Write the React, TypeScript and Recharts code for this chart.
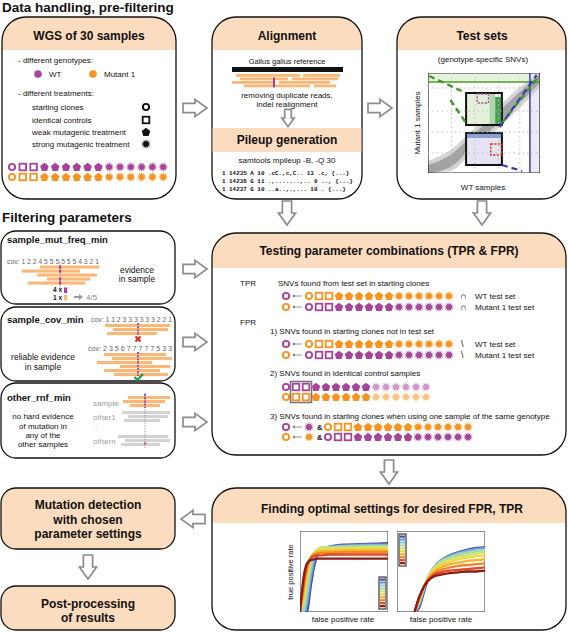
import React from "react";
import {
  LineChart,
  Line,
  XAxis,
  YAxis,
  ComposedChart,
  Area,
  ReferenceArea,
  ReferenceLine,
} from "recharts";

const FONT = "'Liberation Sans', Arial, Helvetica, sans-serif";
const MONO = "'Liberation Mono', 'DejaVu Sans Mono', monospace";
const PEACH = "#FCDCBE";
const PURPLE = "#A6449A";
const ORANGE = "#F7931E";
const READ = "#F9B878";
const GREYREAD = "#D2D2D2";
const ARROWC = "#8C8C8C";

// one genotype: starting clone, 2 identical controls, 6 weak, 6 strong treatments
const sampleTypes = ["c", "s", "s", "p", "p", "p", "p", "p", "p", "x", "x", "x", "x", "x", "x"];

// ROC curves, blue (first) to dark red (last)
const rocColors = [
  "#4B4BA8", "#6E98CF", "#8DCFDC", "#A7DBA4", "#CFE36F",
  "#F1D73A", "#F6B230", "#F0852A", "#DD4A22", "#8E1A16",
];

const leftFpr = [0, 0.04, 0.08, 0.12, 0.16, 0.2, 0.25, 0.35, 0.5, 0.75, 1];
const leftTpr = [
  [0, 0, 0, 0.3, 0.56, 0.7, 0.78, 0.81, 0.83, 0.84, 0.85],
  [0, 0, 0.1, 0.4, 0.62, 0.73, 0.79, 0.81, 0.82, 0.83, 0.83],
  [0, 0, 0.2, 0.5, 0.68, 0.76, 0.79, 0.8, 0.81, 0.82, 0.82],
  [0, 0.05, 0.32, 0.58, 0.72, 0.77, 0.8, 0.8, 0.81, 0.81, 0.81],
  [0, 0.12, 0.4, 0.62, 0.73, 0.77, 0.79, 0.79, 0.79, 0.8, 0.8],
  [0, 0.18, 0.46, 0.65, 0.73, 0.76, 0.77, 0.77, 0.78, 0.78, 0.78],
  [0, 0.25, 0.52, 0.67, 0.72, 0.74, 0.75, 0.75, 0.76, 0.76, 0.76],
  [0, 0.3, 0.55, 0.67, 0.71, 0.72, 0.73, 0.73, 0.74, 0.74, 0.74],
  [0, 0.35, 0.58, 0.66, 0.69, 0.7, 0.7, 0.71, 0.71, 0.71, 0.71],
  [0, 0.42, 0.6, 0.64, 0.65, 0.66, 0.66, 0.66, 0.66, 0.66, 0.66],
];

const rightFpr = [0.2, 0.25, 0.3, 0.35, 0.42, 0.5, 0.6, 0.7, 0.8, 0.9, 1];
const rightTpr = [
  [0, 0.05, 0.22, 0.4, 0.55, 0.64, 0.7, 0.74, 0.77, 0.79, 0.8],
  [0, 0.08, 0.25, 0.41, 0.55, 0.64, 0.69, 0.73, 0.76, 0.78, 0.79],
  [0, 0.1, 0.27, 0.42, 0.55, 0.63, 0.68, 0.72, 0.74, 0.76, 0.77],
  [0, 0.12, 0.28, 0.42, 0.54, 0.62, 0.67, 0.7, 0.73, 0.75, 0.76],
  [0, 0.13, 0.29, 0.42, 0.53, 0.6, 0.65, 0.68, 0.7, 0.72, 0.73],
  [0, 0.14, 0.29, 0.41, 0.52, 0.58, 0.62, 0.65, 0.67, 0.69, 0.7],
  [0, 0.15, 0.3, 0.4, 0.5, 0.55, 0.59, 0.61, 0.63, 0.64, 0.65],
  [0, 0.16, 0.3, 0.4, 0.48, 0.52, 0.55, 0.57, 0.58, 0.59, 0.6],
  [0, 0.17, 0.3, 0.39, 0.46, 0.49, 0.51, 0.52, 0.53, 0.54, 0.55],
  [0, 0.18, 0.3, 0.38, 0.44, 0.46, 0.48, 0.49, 0.5, 0.5, 0.51],
];

// test sets density plot (WT vs Mutant 1)
const bandX = [0, 0.2, 0.4, 0.6, 0.8, 1];
const bandOuterLo = [0, 0.02, 0.22, 0.42, 0.63, 0.86];
const bandOuterHi = [0.12, 0.23, 0.43, 0.63, 0.84, 1];
const bandInnerLo = [0, 0.06, 0.27, 0.47, 0.68, 0.9];
const bandInnerHi = [0.08, 0.18, 0.38, 0.58, 0.79, 0.99];
const gridXs = [0.21, 0.42, 0.63, 0.82];
const gridYs = [0.2, 0.41, 0.62, 0.85];
const greenSquare = [0.34, 0.66, 0.48, 0.8];
const blueSquare = [0.34, 0.66, 0.08, 0.4];
const pinkSquare = [0.44, 0.54, 0.7, 0.79];
const redSquare = [0.56, 0.66, 0.18, 0.29];
const greenDashes = [
  [0.01, 0.97, 0.3, 0.82],
  [0.2, 0.73, 0.34, 0.5],
  [0.66, 0.5, 0.99, 0.97],
];
const blueDashes = [
  [0.64, 0.46, 0.97, 0.98],
  [0.66, 0.08, 0.84, 0.02],
];

const toRows = (xs: number[], curves: number[][]) =>
  xs.map((x, i) => {
    const row: Record<string, number> = { fpr: x };
    curves.forEach((c, k) => {
      row["c" + k] = c[i];
    });
    return row;
  });

const leftRows = toRows(leftFpr, leftTpr);
const rightRows = toRows(rightFpr, rightTpr);
const bandRows = bandX.map((x, i) => ({
  x,
  outer: [bandOuterLo[i], bandOuterHi[i]],
  inner: [bandInnerLo[i], bandInnerHi[i]],
}));

const T = ({ x, y, s = 8, b = false, a = "start", c = "#111", children, ...rest }: any) => (
  <text x={x} y={y} fontSize={s} fontWeight={b ? 700 : 400} textAnchor={a} fill={c} fontFamily={FONT} {...rest}>
    {children}
  </text>
);

const polyPts = (x: number, y: number, n: number, ro: number, ri?: number) => {
  const pts: string[] = [];
  const m = ri ? n * 2 : n;
  for (let i = 0; i < m; i++) {
    const r = ri && i % 2 === 1 ? ri : ro;
    const ang = -Math.PI / 2 + (i * 2 * Math.PI) / m;
    pts.push(`${(x + r * Math.cos(ang)).toFixed(2)},${(y + r * Math.sin(ang)).toFixed(2)}`);
  }
  return pts.join(" ");
};

const Sym = ({ t, x, y, c, o = 1 }: any) => {
  if (t === "c") return <circle cx={x} cy={y} r={3.1} fill="none" stroke={c} strokeWidth={1.9} opacity={o} />;
  if (t === "s")
    return <rect x={x - 3.3} y={y - 3.3} width={6.6} height={6.6} fill="none" stroke={c} strokeWidth={1.8} opacity={o} />;
  if (t === "p") return <polygon points={polyPts(x, y + 0.3, 5, 4.5)} fill={c} opacity={o} />;
  if (t === "x") return <polygon points={polyPts(x, y, 12, 5, 2.6)} fill={c} opacity={o} />;
  return <circle cx={x} cy={y} r={3.8} fill={c} />;
};

const SampleRow = ({ x, y, pitch, c, fade = false }: any) => (
  <g>
    {sampleTypes.map((t, i) => (
      <Sym key={i} t={t} x={x + i * pitch} y={y} c={c} o={fade && t === "x" ? 0.55 : 1} />
    ))}
  </g>
);

const BlockArrow = ({ cx, cy, rot = 0, k = 1 }: any) => (
  <polygon
    points="-12,-4.6 0,-4.6 0,-8.6 12,0 0,8.6 0,4.6 -12,4.6"
    transform={`translate(${cx},${cy}) rotate(${rot}) scale(${k})`}
    fill="#fff"
    stroke={ARROWC}
    strokeWidth={1.7 / k}
    strokeLinejoin="miter"
  />
);

const SmallLeft = ({ x, y }: any) => (
  <g>
    <line x1={x + 1} y1={y} x2={x + 10} y2={y} stroke="#888" strokeWidth={0.9} />
    <polygon points={`${x},${y} ${x + 3},${y - 1.8} ${x + 3},${y + 1.8}`} fill="#888" />
  </g>
);

const HeadBox = ({ x, y, w, h, r, hh }: any) => (
  <g>
    <rect x={x} y={y} width={w} height={h} rx={r} fill="#fff" />
    <path
      d={`M${x},${y + hh} V${y + r} A${r},${r} 0 0 1 ${x + r},${y} H${x + w - r} A${r},${r} 0 0 1 ${x + w},${y + r} V${y + hh} Z`}
      fill={PEACH}
    />
    <rect x={x} y={y} width={w} height={h} rx={r} fill="none" stroke="#111" strokeWidth={1.3} />
  </g>
);

const Reads = ({ rows, h = 3.1, c = READ }: any) => (
  <g>
    {rows.map((r: number[], i: number) => (
      <rect key={i} x={r[0]} y={r[2]} width={r[1] - r[0]} height={h} fill={c} />
    ))}
  </g>
);

function RocPlot({ rows, left, top }: any) {
  return (
    <div style={{ position: "absolute", left, top }}>
      <LineChart width={88} height={81} data={rows} margin={{ top: 0, right: 0, bottom: 0, left: 0 }}>
        <XAxis dataKey="fpr" type="number" domain={[0, 1]} hide />
        <YAxis type="number" domain={[0, 1]} hide />
        {rocColors.map((c, k) => (
          <Line
            key={k}
            dataKey={"c" + k}
            type="monotone"
            stroke={c}
            strokeWidth={2.3}
            dot={false}
            isAnimationActive={false}
          />
        ))}
        <ReferenceArea x1={0} x2={1} y1={0} y2={1} fill="none" stroke="#6E6E6E" strokeWidth={1.4} ifOverflow="visible" />
      </LineChart>
    </div>
  );
}

function TestSetPlot() {
  const box = (b: number[], fill: string, stroke: string, sw: number, dash?: string) => (
    <ReferenceArea
      x1={b[0]}
      x2={b[1]}
      y1={b[2]}
      y2={b[3]}
      fill={fill}
      fillOpacity={1}
      stroke={stroke}
      strokeWidth={sw}
      strokeDasharray={dash}
      ifOverflow="visible"
    />
  );
  return (
    <div style={{ position: "absolute", left: 428, top: 73 }}>
      <ComposedChart width={112} height={100} data={bandRows} margin={{ top: 0, right: 0, bottom: 0, left: 0 }}>
        <XAxis dataKey="x" type="number" domain={[0, 1]} hide />
        <YAxis type="number" domain={[0, 1]} hide />
        <ReferenceArea x1={0} x2={1} y1={0.91} y2={1} fill="#E7F2DE" fillOpacity={1} />
        <ReferenceArea x1={0.91} x2={1} y1={0} y2={1} fill="#EAEAF6" fillOpacity={1} />
        {gridXs.map((g) => (
          <ReferenceLine key={"gx" + g} x={g} stroke="#BDBDBD" strokeDasharray="1.5 3" />
        ))}
        {gridYs.map((g) => (
          <ReferenceLine key={"gy" + g} y={g} stroke="#BDBDBD" strokeDasharray="1.5 3" />
        ))}
        <Area dataKey="outer" type="monotone" stroke="none" fill="#C9C9C9" fillOpacity={0.8} isAnimationActive={false} />
        <Area dataKey="inner" type="monotone" stroke="none" fill="#9A9A9A" fillOpacity={0.85} isAnimationActive={false} />
        <ReferenceLine y={0.91} stroke="#4E9A2E" strokeWidth={1.5} />
        <ReferenceLine x={0.91} stroke="#3B3BA8" strokeWidth={1.5} />
        {box(greenSquare, "#E4F1DA", "#111", 2)}
        <ReferenceArea x1={0.55} x2={0.6} y1={0.49} y2={0.79} fill="#8CC48C" fillOpacity={0.6} />
        <ReferenceArea x1={0.6} x2={0.655} y1={0.49} y2={0.76} fill="#2E8B3A" fillOpacity={0.85} />
        {box(blueSquare, "#E4E4F4", "#111", 2)}
        <ReferenceArea x1={0.35} x2={0.655} y1={0.35} y2={0.395} fill="#3D66B0" fillOpacity={0.55} />
        {box(pinkSquare, "none", "#B2509F", 1.4, "2.2 1.4")}
        {box(redSquare, "none", "#E03020", 1.4, "2.2 1.4")}
        {greenDashes.map((d, i) => (
          <ReferenceLine
            key={"gd" + i}
            segment={[{ x: d[0], y: d[1] }, { x: d[2], y: d[3] }]}
            stroke="#3F9A2A"
            strokeWidth={2.4}
            strokeDasharray="6 4"
          />
        ))}
        {blueDashes.map((d, i) => (
          <ReferenceLine
            key={"bd" + i}
            segment={[{ x: d[0], y: d[1] }, { x: d[2], y: d[3] }]}
            stroke="#3B3BA8"
            strokeWidth={2.2}
            strokeDasharray="6 4"
          />
        ))}
        <ReferenceArea x1={0} x2={1} y1={0} y2={1} fill="none" stroke="#222" strokeWidth={1.2} ifOverflow="visible" />
      </ComposedChart>
    </div>
  );
}

const Legend = ({ x, y }: any) => (
  <g>
    <rect x={x} y={y} width={7} height={32} fill="#fff" stroke="#111" strokeWidth={1} />
    {rocColors.map((c, i) => (
      <rect key={i} x={x + 1} y={y + 1.5 + i * 2.95} width={5} height={2.2} fill={c} />
    ))}
  </g>
);

export default function App() {
  return (
    <div style={{ position: "absolute", left: 0, top: 0, width: 568, height: 632, background: "#fff", fontFamily: FONT }}>
      <svg width={568} height={632} style={{ position: "absolute", left: 0, top: 0 }}>
        {/* section titles */}
        <T x={2} y={12} s={13.5} b>Data handling, pre-filtering</T>
        <T x={2} y={222} s={13.5} b>Filtering parameters</T>

        {/* WGS box */}
        <HeadBox x={2} y={17} w={174} h={182} r={24} hh={33} />
        <T x={89} y={40} s={12} b a="middle">WGS of 30 samples</T>
        <T x={18} y={63}>- different genotypes:</T>
        <Sym t="d" x={38} y={74} c={PURPLE} />
        <T x={49} y={77}>WT</T>
        <Sym t="d" x={93} y={74} c={ORANGE} />
        <T x={104} y={77}>Mutant 1</T>
        <T x={18} y={96}>- different treatments:</T>
        <T x={32} y={110}>starting clones</T>
        <T x={32} y={123}>identical controls</T>
        <T x={32} y={135}>weak mutagenic treatment</T>
        <T x={32} y={147}>strong mutagenic treatment</T>
        <Sym t="c" x={146} y={107} c="#111" />
        <Sym t="s" x={146} y={120} c="#111" />
        <Sym t="p" x={146} y={132} c="#111" />
        <Sym t="x" x={146} y={144} c="#111" />
        <SampleRow x={12} y={167} pitch={10.8} c={PURPLE} />
        <SampleRow x={12} y={177} pitch={10.8} c={ORANGE} />

        {/* Alignment box */}
        <HeadBox x={212} y={17} w={150} h={182} r={24} hh={33} />
        <rect x={212.6} y={128} width={148.8} height={24} fill={PEACH} />
        <T x={287} y={40} s={12} b a="middle">Alignment</T>
        <T x={287} y={63.5} s={7.5} a="middle">Gallus gallus reference</T>
        <rect x={232} y={67} width={111} height={5} fill="#111" />
        <Reads
          h={2.8}
          rows={[
            [236, 300, 74], [303, 340, 74],
            [240, 288, 77.5], [292, 338, 77.5],
            [232, 275, 81], [279, 330, 81],
            [244, 310, 84.5], [314, 336, 84.5],
          ]}
        />
        <rect x={273} y={77.5} width={2} height={9.8} fill={PURPLE} />
        <T x={287} y={98} s={8} a="middle">removing duplicate reads,</T>
        <T x={287} y={107} s={8} a="middle">indel realignment</T>
        <BlockArrow cx={288} cy={118} rot={90} k={0.72} />
        <T x={287} y={144} s={12} b a="middle">Pileup generation</T>
        <T x={287} y={163} s={8} a="middle">samtools mpileup -B, -Q 30</T>
        <text x={222} y={175} fontSize={5.9} fontWeight={700} fontFamily={MONO} fill="#111">
          1 14235 A 10 .cC.,c,C.. 13 .c, {"{...}"}
        </text>
        <text x={222} y={183} fontSize={5.9} fontWeight={700} fontFamily={MONO} fill="#111">
          1 14236 G 11 .,.......,.. 9 .., {"{...}"}
        </text>
        <text x={222} y={191} fontSize={5.9} fontWeight={700} fontFamily={MONO} fill="#111">
          1 14237 G 10 ..a..,.,... 10 . {"{...}"}
        </text>

        {/* Test sets box */}
        <HeadBox x={397} y={17} w={169} h={182} r={24} hh={33} />
        <T x={482} y={40} s={12} b a="middle">Test sets</T>
        <T x={483} y={62} s={8} a="middle">(genotype-specific SNVs)</T>
        <T x={0} y={0} s={8} a="middle" transform="translate(420,123) rotate(-90)">Mutant 1 samples</T>
        <T x={483} y={190} s={8} a="middle">WT samples</T>

        {/* arrows top row */}
        <BlockArrow cx={195} cy={108} />
        <BlockArrow cx={380} cy={108} />
        <BlockArrow cx={287} cy={213} rot={90} />
        <BlockArrow cx={482} cy={213} rot={90} />

        {/* filter box 1 */}
        <rect x={1} y={231} width={174} height={73} rx={15} fill="#fff" stroke="#111" strokeWidth={1.3} />
        <T x={7} y={243} s={9.5} b>sample_mut_freq_min</T>
        <T x={7} y={263.5} s={6.8} c="#666" textLength={92} lengthAdjust="spacingAndGlyphs">
          cov: 1 2 2 4 5 5 5 5 5 5 4 3 2 1
        </T>
        <Reads rows={[[40, 99, 265.5], [22, 80, 269.5], [37, 97, 273.5], [47, 90, 277.5], [28, 85, 281.5]]} />
        <line x1={60} y1={262} x2={60} y2={291} stroke="#999" strokeWidth={0.9} strokeDasharray="1.5 1.2" />
        {[265.5, 269.5, 277.5, 281.5].map((y) => (
          <rect key={y} x={59} y={y} width={2.2} height={3.1} fill={PURPLE} />
        ))}
        <T x={53} y={292.2} s={6.6} b>4 x</T>
        <rect x={64} y={287.5} width={3.2} height={5.5} fill={PURPLE} />
        <T x={53} y={300} s={6.6} b>1 x</T>
        <rect x={64} y={295} width={3.2} height={5.5} fill={READ} />
        <polygon points="74,296 79,296 79,294 83,297 79,300 79,298 74,298" fill="#999" />
        <T x={86} y={300} s={8} c="#888">4/5</T>
        <T x={137} y={273} s={8.5} a="middle">evidence</T>
        <T x={137} y={282} s={8.5} a="middle">in sample</T>

        {/* filter box 2 */}
        <rect x={1} y={307} width={174} height={74} rx={15} fill="#fff" stroke="#111" strokeWidth={1.3} />
        <T x={7} y={323} s={9.5} b>sample_cov_min</T>
        <T x={91} y={321.5} s={6.8} c="#666" textLength={81} lengthAdjust="spacingAndGlyphs">
          cov: 1 1 2 3 3 3 3 3 3 2 2 1
        </T>
        <Reads rows={[[105, 170, 324], [113, 168, 328], [107, 157, 332]]} />
        <line x1={138} y1={323} x2={138} y2={335} stroke={PURPLE} strokeWidth={1.8} strokeDasharray="2 1.2" />
        <g stroke="#E2231A" strokeWidth={2}>
          <line x1={135.5} y1={336.5} x2={140.5} y2={341.5} />
          <line x1={140.5} y1={336.5} x2={135.5} y2={341.5} />
        </g>
        <T x={88} y={350.5} s={6.8} c="#666" textLength={84} lengthAdjust="spacingAndGlyphs">
          cov: 2 3 5 6 7 7 7 7 7 5 3 3
        </T>
        <Reads
          rows={[[104, 166, 353], [112, 172, 357], [97, 152, 361], [120, 170, 365], [104, 160, 369], [114, 168, 373]]}
        />
        <line x1={138} y1={352} x2={138} y2={376} stroke={PURPLE} strokeWidth={1.8} strokeDasharray="2 1.2" />
        <path d="M134.5,377 L137.5,380 L143,374" fill="none" stroke="#1E9E4A" strokeWidth={2.2} />
        <T x={43} y={360} s={8.5} a="middle">reliable evidence</T>
        <T x={43} y={370} s={8.5} a="middle">in sample</T>

        {/* filter box 3 */}
        <rect x={1} y={383} width={174} height={75} rx={15} fill="#fff" stroke="#111" strokeWidth={1.3} />
        <T x={7} y={401} s={9.5} b>other_rnf_min</T>
        <T x={93} y={406} s={8} c="#A0A0A0">sample</T>
        <T x={93} y={419.5} s={8} c="#A0A0A0">other1</T>
        <T x={95} y={431} s={8} c="#A0A0A0">:</T>
        <T x={93} y={443.5} s={8} c="#A0A0A0">othern</T>
        <Reads rows={[[128, 170, 396], [123, 165, 400], [130, 160, 404]]} />
        <Reads c={GREYREAD} rows={[[122, 170, 411], [128, 168, 415], [124, 160, 419]]} />
        <Reads c={GREYREAD} rows={[[118, 168, 435], [125, 170, 439], [121, 160, 443]]} />
        <line x1={145} y1={393} x2={145} y2={448} stroke="#999" strokeWidth={0.9} strokeDasharray="1.5 1.2" />
        <line x1={145} y1={394} x2={145} y2={408} stroke={PURPLE} strokeWidth={1.8} strokeDasharray="2 1.2" />
        <circle cx={145} cy={443.5} r={1.2} fill="#D04AA8" />
        <T x={43} y={419} s={8} a="middle">no hard evidence</T>
        <T x={43} y={428.5} s={8} a="middle">of mutation in</T>
        <T x={43} y={438} s={8} a="middle">any of the</T>
        <T x={43} y={447} s={8} a="middle">other samples</T>

        {/* filter arrows */}
        <BlockArrow cx={195} cy={269} />
        <BlockArrow cx={195} cy={342} />
        <BlockArrow cx={195} cy={422} />

        {/* Testing box */}
        <HeadBox x={212} y={233} w={354} h={222} r={24} hh={35} />
        <T x={389} y={255} s={12} b a="middle">Testing parameter combinations (TPR &amp; FPR)</T>
        <T x={240} y={286}>TPR</T>
        <T x={278} y={286}>SNVs found from test set in starting clones</T>
        <Sym t="c" x={286} y={296} c={PURPLE} />
        <SmallLeft x={292} y={296} />
        <SampleRow x={309} y={296} pitch={10} c={ORANGE} />
        <Sym t="c" x={286} y={307} c={ORANGE} />
        <SmallLeft x={292} y={307} />
        <SampleRow x={309} y={307} pitch={10} c={PURPLE} />
        <T x={460} y={299} s={9}>∩</T>
        <T x={475} y={299}>WT test set</T>
        <T x={460} y={310} s={9}>∩</T>
        <T x={475} y={310}>Mutant 1 test set</T>

        <T x={240} y={325}>FPR</T>
        <T x={270} y={334}>1) SNVs found in starting clones not in test set</T>
        <Sym t="c" x={286} y={344} c={PURPLE} />
        <SmallLeft x={292} y={344} />
        <SampleRow x={309} y={344} pitch={10} c={ORANGE} />
        <Sym t="c" x={286} y={355} c={ORANGE} />
        <SmallLeft x={292} y={355} />
        <SampleRow x={309} y={355} pitch={10} c={PURPLE} />
        <T x={461} y={347} s={9}>\</T>
        <T x={475} y={347}>WT test set</T>
        <T x={461} y={358} s={9}>\</T>
        <T x={475} y={358}>Mutant 1 test set</T>

        <T x={270} y={376}>2) SNVs found in identical control samples</T>
        <SampleRow x={286} y={387} pitch={10} c={PURPLE} fade />
        <SampleRow x={286} y={397} pitch={10} c={ORANGE} fade />
        <rect x={290.5} y={381.5} width={21} height={21} fill="none" stroke="#777" strokeWidth={1.6} />

        <T x={270} y={419}>3) SNVs found in starting clones when using one sample of the same genotype</T>
        <Sym t="c" x={286} y={427} c={PURPLE} />
        <SmallLeft x={292} y={427} />
        <Sym t="x" x={309} y={427} c={PURPLE} />
        <T x={317} y={430} s={7.5} b>&amp;</T>
        <SampleRow x={328} y={427} pitch={10} c={ORANGE} />
        <Sym t="c" x={286} y={437} c={ORANGE} />
        <SmallLeft x={292} y={437} />
        <Sym t="x" x={309} y={437} c={ORANGE} />
        <T x={317} y={440} s={7.5} b>&amp;</T>
        <SampleRow x={328} y={437} pitch={10} c={PURPLE} />

        <BlockArrow cx={389} cy={472} rot={90} />

        {/* Finding box */}
        <HeadBox x={212} y={488} w={354} h={142} r={24} hh={35} />
        <T x={392} y={512.5} s={12} b a="middle">Finding optimal settings for desired FPR, TPR</T>
        <T x={0} y={0} s={7.5} a="middle" transform="translate(293,572) rotate(-90)">true positive rate</T>
        <T x={343} y={622} s={8} a="middle">false positive rate</T>
        <T x={441} y={622} s={8} a="middle">false positive rate</T>

        <BlockArrow cx={193} cy={519} rot={180} />

        {/* left result boxes */}
        <rect x={1} y={488} width={174} height={61} rx={15} fill={PEACH} stroke="#111" strokeWidth={1.3} />
        <T x={88} y={508.5} s={12} b a="middle">Mutation detection</T>
        <T x={88} y={523.5} s={12} b a="middle">with chosen</T>
        <T x={88} y={537.5} s={12} b a="middle">parameter settings</T>
        <BlockArrow cx={88} cy={567} rot={90} />
        <rect x={1} y={586} width={174} height={44} rx={15} fill={PEACH} stroke="#111" strokeWidth={1.3} />
        <T x={88} y={607.5} s={12} b a="middle">Post-processing</T>
        <T x={88} y={621.5} s={12} b a="middle">of results</T>
      </svg>

      <TestSetPlot />
      <RocPlot rows={leftRows} left={300} top={531} />
      <RocPlot rows={rightRows} left={397} top={531} />

      <svg width={568} height={632} style={{ position: "absolute", left: 0, top: 0, pointerEvents: "none" }}>
        <Legend x={379} y={577} />
        <Legend x={399} y={534} />
      </svg>
    </div>
  );
}
